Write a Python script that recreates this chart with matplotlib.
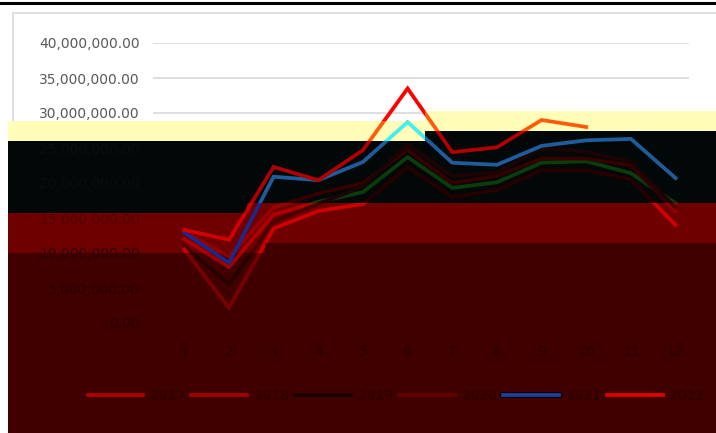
import matplotlib

matplotlib.use("Agg")
import matplotlib.pyplot as plt
import matplotlib.patheffects as pe
from matplotlib.lines import Line2D
from matplotlib.patches import Polygon, Rectangle
from matplotlib.ticker import FuncFormatter

# Data (millions)
months = ["1", "2", "3", "4", "5", "6", "7", "8", "9", "10", "11", "12"]
years = ["2017", "2018", "2019", "2020", "2021", "2022"]

values_2017 = [12.0, 8.0, 15.5, 17.3, 18.7, 23.7, 19.3, 20.1, 22.9, 23.1, 21.4, 17.1]
values_2018 = [13.0, 9.5, 16.5, 18.5, 20.0, 24.7, 20.0, 21.0, 23.5, 23.5, 22.5, 16.0]
values_2019 = [11.0, 5.5, 14.5, 17.0, 19.5, 25.5, 21.0, 21.5, 25.0, 24.5, 23.0, 16.5]
values_2020 = [10.5, 2.2, 13.5, 16.0, 17.0, 22.3, 18.0, 19.0, 21.8, 21.8, 20.5, 14.0]
values_2021 = [12.9, 8.6, 20.9, 20.4, 23.0, 28.7, 22.9, 22.6, 25.3, 26.1, 26.3, 20.7]
values_2022 = [13.3, 11.9, 22.3, 20.4, 24.7, 33.5, 24.4, 25.1, 29.0, 28.0]

series = [values_2017, values_2018, values_2019, values_2020, values_2021, values_2022]

# Line colours inside each horizontal band of the picture
band_colors = {
    "white": ["#70ad47", "#a5a5a5", "#ffc000", "#ed7d31", "#c8a070", "#ff0000"],
    "yellow": ["#e8e0a0", "#f0d890", "#f5e6a0", "#f0d0a0", "#40f0f0", "#ff5a0a"],
    "black": ["#0b3d0b", "#340000", "#1c0404", "#260000", "#1f5c9c", "#b00000"],
    "red": ["#b00000", "#980000", "#4a0000", "#d00000", "#1a2a8a", "#d40000"],
    "dark": ["#a00000", "#8c0000", "#260000", "#7a0000", "#1a2a8a", "#b80000"],
}
legend_colors = ["#b00000", "#a00000", "#1a0000", "#600000", "#1f3f9f", "#e00000"]

W, H = 716, 433

fig = plt.figure(figsize=(W / 100, H / 100), dpi=100)
fig.patch.set_facecolor("white")


def px(x, y):
    # pixel (top-left origin) -> figure fraction
    return (x / W, 1 - y / H)


def band(top_l, top_r, top_step, bot_l, bot_r, bot_step, x0=8, x1=W):
    pts = [
        (x0, top_l), (top_step, top_l), (top_step, top_r), (x1, top_r),
        (x1, bot_r), (bot_step, bot_r), (bot_step, bot_l), (x0, bot_l),
    ]
    return [px(x, y) for x, y in pts]


# Top border and chart frame
fig.add_artist(Line2D([0, 1], [1 - 3 / H, 1 - 3 / H], color="black", lw=2.2,
                      transform=fig.transFigure, zorder=-2))
fig.add_artist(Rectangle(px(13, 430), (W + 10) / W, 417 / H, fill=False,
                         edgecolor="#d9d9d9", lw=1.2, transform=fig.transFigure, zorder=-2))

# Bands
regions = {
    "white": band(0, 0, 425, 121, 111, 425, x0=0),
    "yellow": band(121, 111, 425, 141, 131, 425),
    "black": band(141, 131, 425, 213, 203, 247),
    "red": band(213, 203, 247, 253, 243, 265),
    "dark": band(253, 243, 265, H + 2, H + 2, 265),
}
fills = {"yellow": "#fffdb8", "black": "#020808", "red": "#6e0000", "dark": "#400000"}

clip_patches = {}
for name, pts in regions.items():
    face = fills.get(name, "none")
    poly = Polygon(pts, closed=True, transform=fig.transFigure, facecolor=face,
                   edgecolor="none", zorder=1)
    if name != "white":
        fig.add_artist(poly)
    clip_patches[name] = poly

# Axes positions
left, bottom = 153 / W, (H - 323) / H
width, height = 536 / W, 280 / H

ax = fig.add_axes([left, bottom, width, height], zorder=0)
ax2 = fig.add_axes([left, bottom, width, height], zorder=2)

for a in (ax, ax2):
    a.set_xlim(-0.7, 11.3)
    a.set_ylim(0, 40e6)
    a.patch.set_alpha(0)
    for s in a.spines.values():
        s.set_visible(False)

ax.set_yticks([i * 5e6 for i in range(9)])
ax.grid(axis="y", color="#d9d9d9", lw=1.2)
ax.tick_params(labelleft=False, labelbottom=False, length=0)
ax.set_xticks([])

# Lines, split by band colour
for name, patch in clip_patches.items():
    for k, vals in enumerate(series):
        xs = list(range(len(vals)))
        ys = [v * 1e6 for v in vals]
        (line,) = ax2.plot(xs, ys, color=band_colors[name][k], lw=2.7,
                           solid_joinstyle="miter")
        line.set_clip_path(patch)

# Tick labels
ax2.set_yticks([i * 5e6 for i in range(9)])
ax2.yaxis.set_major_formatter(FuncFormatter(lambda v, p: f"{v:,.2f}"))
ax2.set_xticks(range(len(months)))
ax2.set_xticklabels(months)
ax2.tick_params(axis="y", length=0, pad=9.5, labelsize=10)
ax2.tick_params(axis="x", length=0, pad=16, labelsize=10, labelcolor="#2a0000")

ylabel_colors = ["#2a0000", "#2a0000", "#2a0000", "#520000", "#0a0d0d",
                 "#0a0d0d", "#595959", "#595959", "#595959"]
for lbl, c in zip(ax2.get_yticklabels(), ylabel_colors):
    lbl.set_color(c)

# Legend
handles = []
for k, c in enumerate(legend_colors):
    if k == 4:
        handles.append(Line2D([], [], color=c, lw=2.7,
                              path_effects=[pe.withStroke(linewidth=4.0, foreground="black")]))
    else:
        handles.append(Line2D([], [], color=c, lw=2.7))

leg = ax2.legend(handles, years, loc="center", bbox_to_anchor=(396 / W, 1 - 396 / H),
                 bbox_transform=fig.transFigure, ncol=6, frameon=False, fontsize=10,
                 handlelength=4.0, handletextpad=0.5, columnspacing=0.45)
for t in leg.get_texts():
    t.set_color("#2a0000")

fig.savefig("out.png", dpi=100)
